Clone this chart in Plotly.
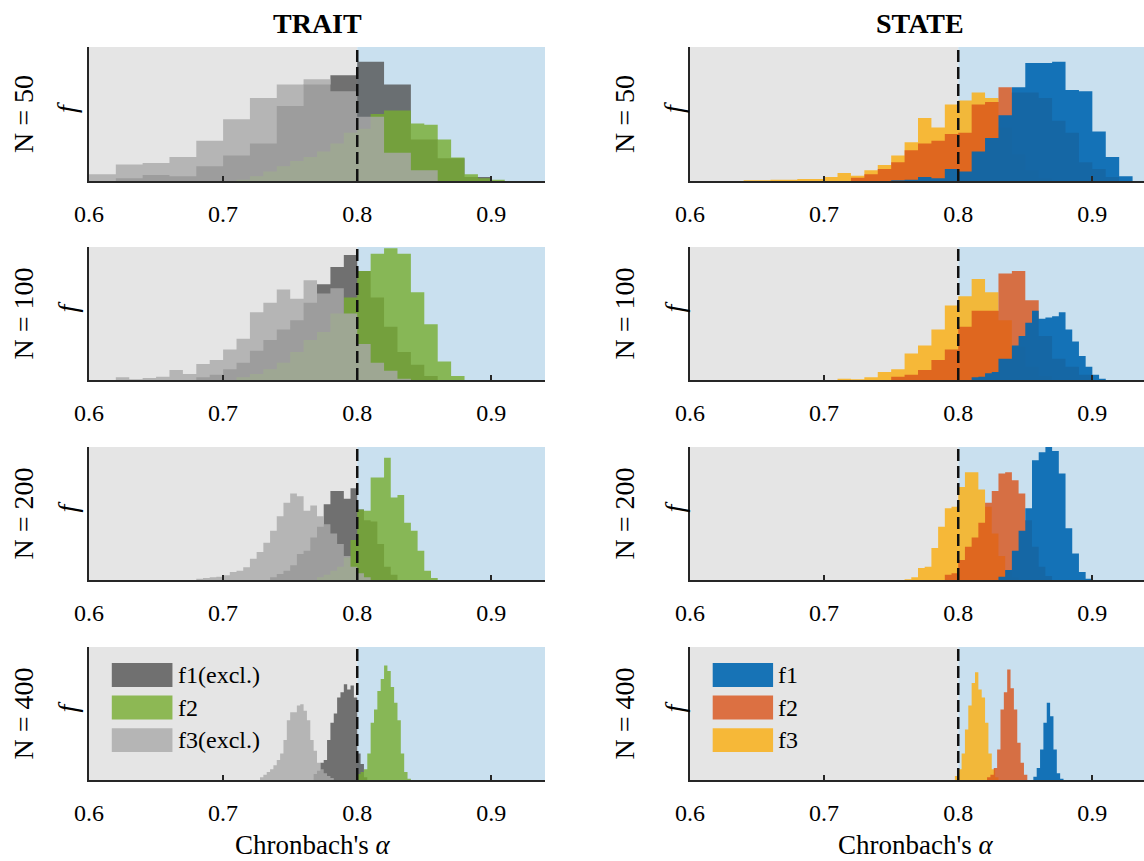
import plotly.graph_objects as go
from plotly.subplots import make_subplots

# ---------------- data (heights in % of panel height) ----------------
sample_sizes = [50, 100, 200, 400]
column_titles = ["TRAIT", "STATE"]
trait_names = ["f1(excl.)", "f2", "f3(excl.)"]
state_names = ["f1", "f2", "f3"]
x_ticks = [0.6, 0.7, 0.8, 0.9]
cutoff = 0.8

# TRAIT, N = 50
T50_f1_start, T50_f1_width = 0.60, 0.02
T50_f1 = [0, 2, 4.5, 3.5, 11, 19, 28, 56, 72, 79, 89, 72, 31, 17, 3]
T50_f2_start, T50_f2_width = 0.71, 0.01
T50_f2 = [1, 3.5, 7, 11, 15, 18, 22, 28, 36, 39, 50, 52.6, 52.6, 43, 42, 31, 17.6, 5, 2, 1]
T50_f3_start, T50_f3_width = 0.60, 0.02
T50_f3 = [5, 12.4, 13.4, 18, 30, 46, 62, 72, 76, 67, 48, 21, 8]

# TRAIT, N = 100
T100_f1_start, T100_f1_width = 0.68, 0.01
T100_f1 = [2, 4, 8, 13, 22, 30, 38, 45, 58, 72, 85, 94, 82, 62, 40, 21, 11.5, 3]
T100_f2_start, T100_f2_width = 0.71, 0.01
T100_f2 = [2, 4.5, 8, 13, 21, 30, 36, 50, 62, 82, 95, 99, 95, 66, 42, 14, 3]
T100_f3_start, T100_f3_width = 0.62, 0.01
T100_f3 = [2, 0.5, 1.5, 2.5, 7.5, 4.5, 12, 15, 23, 31, 51, 58, 68, 61, 75, 65, 69, 50, 27, 13, 7, 1]

# TRAIT, N = 200
T200_f1_start, T200_f1_width = 0.735, 0.005
T200_f1 = [2, 4.5, 7, 11, 19.5, 22, 32, 40, 57, 67, 67, 61, 69, 53, 45, 44, 27, 10, 4]
T200_f2_start, T200_f2_width = 0.770, 0.005
T200_f2 = [2, 4, 7, 10, 17, 30, 53, 52, 77, 77, 92, 62, 64, 43, 37, 22, 7, 1.5]
T200_f3_start, T200_f3_width = 0.680, 0.005
T200_f3 = [1, 1.5, 2, 2.5, 3.5, 6, 7, 9.5, 16, 21, 28, 37, 48, 58, 65, 63, 52, 56, 48,
           42, 35, 27, 18, 10, 5, 2]

# TRAIT, N = 400
T400_f1_start, T400_f1_width = 0.7675, 0.0025
T400_f1 = [4.5, 7, 13, 15, 30, 43, 50, 62, 66, 72, 68, 71, 62, 20, 12, 2]
T400_f2_start, T400_f2_width = 0.80, 0.0025
T400_f2 = [4.5, 6, 8, 20, 43, 53, 67, 76, 86, 82, 70, 58, 45, 20, 6, 1]
T400_f3_start, T400_f3_width = 0.7275, 0.0025
T400_f3 = [2, 4, 6, 8, 11, 15, 20, 30, 45, 51, 51, 56, 57, 52, 45, 30, 22, 13, 8, 5, 3, 1.5]

# STATE, N = 50
S50_f1_start, S50_f1_width = 0.75, 0.01
S50_f1 = [0.5, 1, 3, 2, 9, 7, 22, 32, 49, 70, 88, 88, 89, 68, 67, 37, 18, 3.5]
S50_f2_start, S50_f2_width = 0.72, 0.01
S50_f2 = [2.5, 5, 9, 14, 23, 28, 30, 35, 36, 57, 59, 70, 66, 66, 62, 45, 36, 14, 9, 3]
S50_f3_start, S50_f3_width = 0.64, 0.01
S50_f3 = [0.5, 0.5, 1, 1, 1.5, 1.5, 3, 6, 4, 8, 12, 19, 29, 47, 40, 57, 60, 66, 62, 40, 20, 8, 2]

# STATE, N = 100
S100_f1_start, S100_f1_width = 0.81, 0.005
S100_f1 = [2, 2.5, 5, 6, 16, 16, 26, 33, 43, 52, 46, 47, 48, 51, 38, 29, 18, 10, 4, 1]
S100_f2_start, S100_f2_width = 0.75, 0.01
S100_f2 = [2.5, 4, 7.6, 15, 23, 40, 52, 52, 80, 82, 60, 33, 16, 10, 4]
S100_f3_start, S100_f3_width = 0.71, 0.01
S100_f3 = [1, 0.5, 2, 6, 8, 20, 26, 38, 56, 63, 76, 66, 45, 25, 10, 3]

# STATE, N = 200
S200_f1_start, S200_f1_width = 0.830, 0.005
S200_f1 = [2.5, 7.6, 22, 37, 54, 90, 96, 100, 97, 80, 39, 20, 6, 1]
S200_f2_start, S200_f2_width = 0.790, 0.005
S200_f2 = [4, 5, 15, 25, 32, 43, 58, 67, 80, 81, 75, 65, 45, 25, 10, 3]
S200_f3_start, S200_f3_width = 0.760, 0.005
S200_f3 = [0.5, 2, 9, 10, 24, 40, 54, 55, 70, 81, 81, 68, 55, 35, 18, 7, 2]

# STATE, N = 400
S400_f1_start, S400_f1_width = 0.856, 0.0025
S400_f1 = [2.5, 9, 23, 43, 58, 48, 23, 5, 1]
S400_f2_start, S400_f2_width = 0.8215, 0.0025
S400_f2 = [2, 4, 9, 23, 53, 66, 83, 69, 53, 28, 13, 4]
S400_f3_start, S400_f3_width = 0.7975, 0.0025
S400_f3 = [3, 8, 20, 38, 56, 73, 81, 68, 62, 43, 20, 8, 2]

# ---------------- styling ----------------
W, H = 1144, 861
FONT = "Liberation Serif, Times New Roman, serif"
trait_rgb = [(82, 82, 82), (119, 172, 48), (169, 169, 169)]
state_rgb = [(0, 102, 176), (217, 83, 25), (249, 176, 26)]
trait_opac = [0.8, 0.8, 0.8]
state_opac = [0.9, 0.8, 0.85]
BG_LOW = "#E5E5E5"
BG_HIGH = "#C9E0EF"
AX_COLOR = "#262626"

col_px = [(89, 545), (690, 1144)]
row_px = [(47, 181), (247, 380), (447, 580), (647, 780)]
px_per_unit = (545 - 89) / 0.34
x_ranges = [[0.6, 0.94], [0.6, 0.6 + (1144 - 690) / px_per_unit]]


def px(xp):
    return xp / W


def py(yp):
    return 1 - yp / H


def rgba(rgb, a):
    return f"rgba({rgb[0]},{rgb[1]},{rgb[2]},{a})"


def edges(start, width, n):
    return [start + width * i for i in range(n + 1)]


trait_series = {
    50: [(T50_f1, T50_f1_start, T50_f1_width), (T50_f2, T50_f2_start, T50_f2_width), (T50_f3, T50_f3_start, T50_f3_width)],
    100: [(T100_f1, T100_f1_start, T100_f1_width), (T100_f2, T100_f2_start, T100_f2_width), (T100_f3, T100_f3_start, T100_f3_width)],
    200: [(T200_f1, T200_f1_start, T200_f1_width), (T200_f2, T200_f2_start, T200_f2_width), (T200_f3, T200_f3_start, T200_f3_width)],
    400: [(T400_f1, T400_f1_start, T400_f1_width), (T400_f2, T400_f2_start, T400_f2_width), (T400_f3, T400_f3_start, T400_f3_width)],
}
state_series = {
    50: [(S50_f1, S50_f1_start, S50_f1_width), (S50_f2, S50_f2_start, S50_f2_width), (S50_f3, S50_f3_start, S50_f3_width)],
    100: [(S100_f1, S100_f1_start, S100_f1_width), (S100_f2, S100_f2_start, S100_f2_width), (S100_f3, S100_f3_start, S100_f3_width)],
    200: [(S200_f1, S200_f1_start, S200_f1_width), (S200_f2, S200_f2_start, S200_f2_width), (S200_f3, S200_f3_start, S200_f3_width)],
    400: [(S400_f1, S400_f1_start, S400_f1_width), (S400_f2, S400_f2_start, S400_f2_width), (S400_f3, S400_f3_start, S400_f3_width)],
}


def hist_trace(h, s, w, rgb, a, name):
    # histogram outline as a stepped, filled area (bin edges -> counts)
    return go.Scatter(x=edges(s, w, len(h)), y=list(h) + [h[-1]], mode="lines",
                      line=dict(shape="hv", width=0, color="rgba(0,0,0,0)"),
                      fill="tozeroy", fillcolor=rgba(rgb, a), name=name,
                      hoverinfo="skip", showlegend=False)


fig = make_subplots(rows=4, cols=2)

# trait: draw f1, f2, f3 (f3 on top); state: draw f3, f2, f1 (f1 on top)
for r, n in enumerate(sample_sizes, start=1):
    for idx in [0, 1, 2]:
        h, s, w = trait_series[n][idx]
        fig.add_trace(hist_trace(h, s, w, trait_rgb[idx], trait_opac[idx], trait_names[idx]), row=r, col=1)
    for idx in [2, 1, 0]:
        h, s, w = state_series[n][idx]
        fig.add_trace(hist_trace(h, s, w, state_rgb[idx], state_opac[idx], state_names[idx]), row=r, col=2)

shapes = []
annotations = []
for r in range(4):
    for c in range(2):
        k = r * 2 + c + 1
        xa = "xaxis" if k == 1 else f"xaxis{k}"
        ya = "yaxis" if k == 1 else f"yaxis{k}"
        xref = "x" if k == 1 else f"x{k}"
        yref = "y" if k == 1 else f"y{k}"
        x0p, x1p = col_px[c]
        y0p, y1p = row_px[r]
        fig.layout[xa].update(
            domain=[px(x0p), px(x1p)], range=x_ranges[c], tickvals=x_ticks,
            tickformat=".1f", ticks="inside", ticklen=5, tickwidth=1.5,
            tickcolor=AX_COLOR, showline=True, linecolor=AX_COLOR, linewidth=1.5,
            showgrid=False, zeroline=False, ticklabelstandoff=10, automargin=False,
            tickfont=dict(family=FONT, size=24, color="#000000"))
        fig.layout[ya].update(
            domain=[py(y1p), py(y0p)], range=[0, 100], showticklabels=False,
            ticks="", showline=True, linecolor=AX_COLOR, linewidth=1.5,
            showgrid=False, zeroline=False, automargin=False)
        # background regions
        shapes.append(dict(type="rect", xref=xref, yref=f"{yref} domain",
                           x0=0.5, x1=cutoff, y0=0, y1=1, fillcolor=BG_LOW,
                           line=dict(width=0), layer="below"))
        shapes.append(dict(type="rect", xref=xref, yref=f"{yref} domain",
                           x0=cutoff, x1=1.0, y0=0, y1=1, fillcolor=BG_HIGH,
                           line=dict(width=0), layer="below"))
        # cutoff line
        shapes.append(dict(type="line", xref=xref, yref=f"{yref} domain",
                           x0=cutoff, x1=cutoff, y0=0, y1=1,
                           line=dict(color="#111111", width=2.5, dash="12px,5px"),
                           layer="above"))
        # row labels
        n_x = x0p - 66
        f_x = x0p - 22 if c == 0 else x0p - 16
        ymid = (y0p + y1p) / 2
        annotations.append(dict(text=f"N = {sample_sizes[r]}", x=px(n_x), y=py(ymid),
                                xref="paper", yref="paper", showarrow=False,
                                textangle=-90, xanchor="center", yanchor="middle",
                                font=dict(family=FONT, size=28, color="#000000")))
        annotations.append(dict(text="<i>f</i>", x=px(f_x), y=py(ymid - 6),
                                xref="paper", yref="paper", showarrow=False,
                                textangle=-90, xanchor="center", yanchor="middle",
                                font=dict(family=FONT, size=28, color="#000000")))

# column titles and x-axis titles
for c in range(2):
    x0p, x1p = col_px[c]
    xmid = (x0p + x1p) / 2 if c == 0 else (x0p + 1149) / 2
    annotations.append(dict(text=f"<b>{column_titles[c]}</b>", x=px(xmid), y=py(24),
                            xref="paper", yref="paper", showarrow=False,
                            xanchor="center", yanchor="middle",
                            font=dict(family=FONT, size=28, color="#000000")))
    annotations.append(dict(text="Chronbach's <i>α</i>", x=px(xmid - 4), y=py(845),
                            xref="paper", yref="paper", showarrow=False,
                            xanchor="center", yanchor="middle",
                            font=dict(family=FONT, size=27, color="#000000")))

# legends (bottom row)
legend_specs = [(7, trait_names, trait_rgb, trait_opac), (8, state_names, state_rgb, state_opac)]
sw_y = [(0.70, 0.88), (0.455, 0.635), (0.21, 0.39)]
for k, names, colors, opac in legend_specs:
    for i in range(3):
        shapes.append(dict(type="rect", xref=f"x{k} domain", yref=f"y{k} domain",
                           x0=0.05, x1=0.183, y0=sw_y[i][0], y1=sw_y[i][1],
                           fillcolor=rgba(colors[i], opac[i]), line=dict(width=0),
                           layer="above"))
        annotations.append(dict(text=names[i], xref=f"x{k} domain", yref=f"y{k} domain",
                                x=0.19, y=(sw_y[i][0] + sw_y[i][1]) / 2,
                                xanchor="left", yanchor="middle", showarrow=False,
                                font=dict(family=FONT, size=24, color="#000000")))

fig.update_layout(
    width=W, height=H, margin=dict(l=0, r=0, t=0, b=0, pad=0),
    paper_bgcolor="white", plot_bgcolor="rgba(0,0,0,0)",
    showlegend=False, shapes=shapes, annotations=annotations,
    font=dict(family=FONT),
)

fig.write_html("out.html", config={"displayModeBar": False},
               post_script="document.body.style.margin='0';document.body.style.overflow='hidden';")
